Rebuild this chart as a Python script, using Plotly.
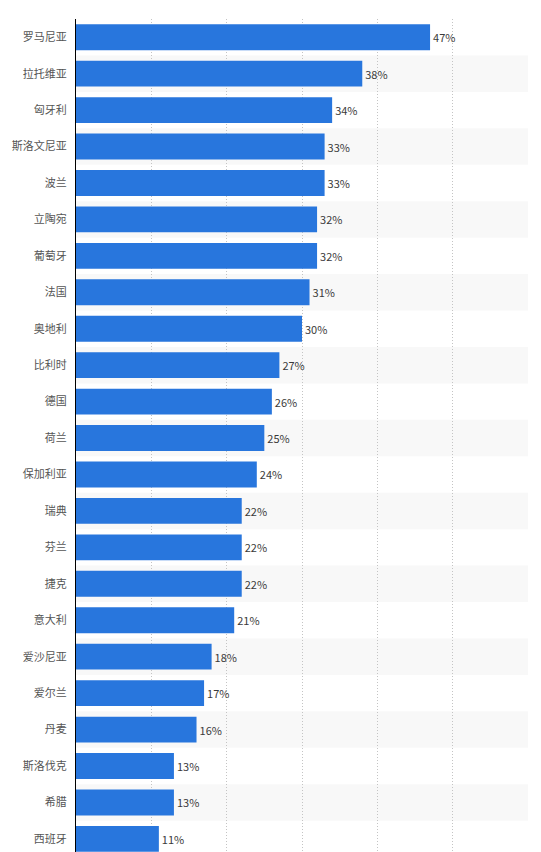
"""Horizontal bar chart: share by EU country (Chinese labels)."""

import plotly.graph_objects as go

COUNTRIES = [
    "罗马尼亚", "拉托维亚", "匈牙利", "斯洛文尼亚", "波兰", "立陶宛", "葡萄牙",
    "法国", "奥地利", "比利时", "德国", "荷兰", "保加利亚", "瑞典", "芬兰",
    "捷克", "意大利", "爱沙尼亚", "爱尔兰", "丹麦", "斯洛伐克", "希腊", "西班牙",
]
VALUES = [47, 38, 34, 33, 33, 32, 32, 31, 30, 27, 26, 25, 24, 22, 22, 22, 21, 18, 17, 16, 13, 13, 11]

BAR_COLOR = "#2876dd"
FONT = "Noto Sans CJK SC, Noto Sans, sans-serif"

fig = go.Figure()
fig.add_trace(go.Bar(
    x=VALUES,
    y=COUNTRIES,
    orientation="h",
    marker=dict(color=BAR_COLOR, line=dict(width=0)),
    width=0.71,
    text=[f"{v}%" for v in VALUES],
    textposition="outside",
    textfont=dict(color="#3a3a3a", size=11, family=FONT),
    cliponaxis=False,
    hoverinfo="skip",
))

# alternating row stripes
shapes = []
for i in range(1, len(COUNTRIES), 2):
    shapes.append(dict(
        type="rect", xref="paper", yref="y",
        x0=0, x1=1, y0=i - 0.5, y1=i + 0.5,
        fillcolor="#f8f8f8", line=dict(width=0), layer="below",
    ))

# page body adds an 8px margin, so the figure is sized to fit inside it
fig.update_layout(
    width=533,
    height=844,
    margin=dict(l=68, r=13, t=11, b=0, autoexpand=False),
    paper_bgcolor="white",
    plot_bgcolor="white",
    showlegend=False,
    shapes=shapes,
    font=dict(family=FONT, color="#555555", size=11),
    xaxis=dict(
        range=[0, 60],
        dtick=10,
        showticklabels=False,
        showgrid=True,
        gridcolor="#c4c4c4",
        griddash="1px,2px",
        gridwidth=1,
        zeroline=False,
        showline=False,
        automargin=False,
        fixedrange=True,
    ),
    yaxis=dict(
        type="category",
        categoryorder="array",
        categoryarray=COUNTRIES,
        range=[22.36, -0.5],
        showgrid=False,
        showline=True,
        linecolor="#000000",
        linewidth=1,
        ticks="",
        ticklabelstandoff=6,
        tickfont=dict(size=11, color="#555555", family=FONT),
        automargin=False,
        fixedrange=True,
    ),
)

fig.write_html("out.html")
